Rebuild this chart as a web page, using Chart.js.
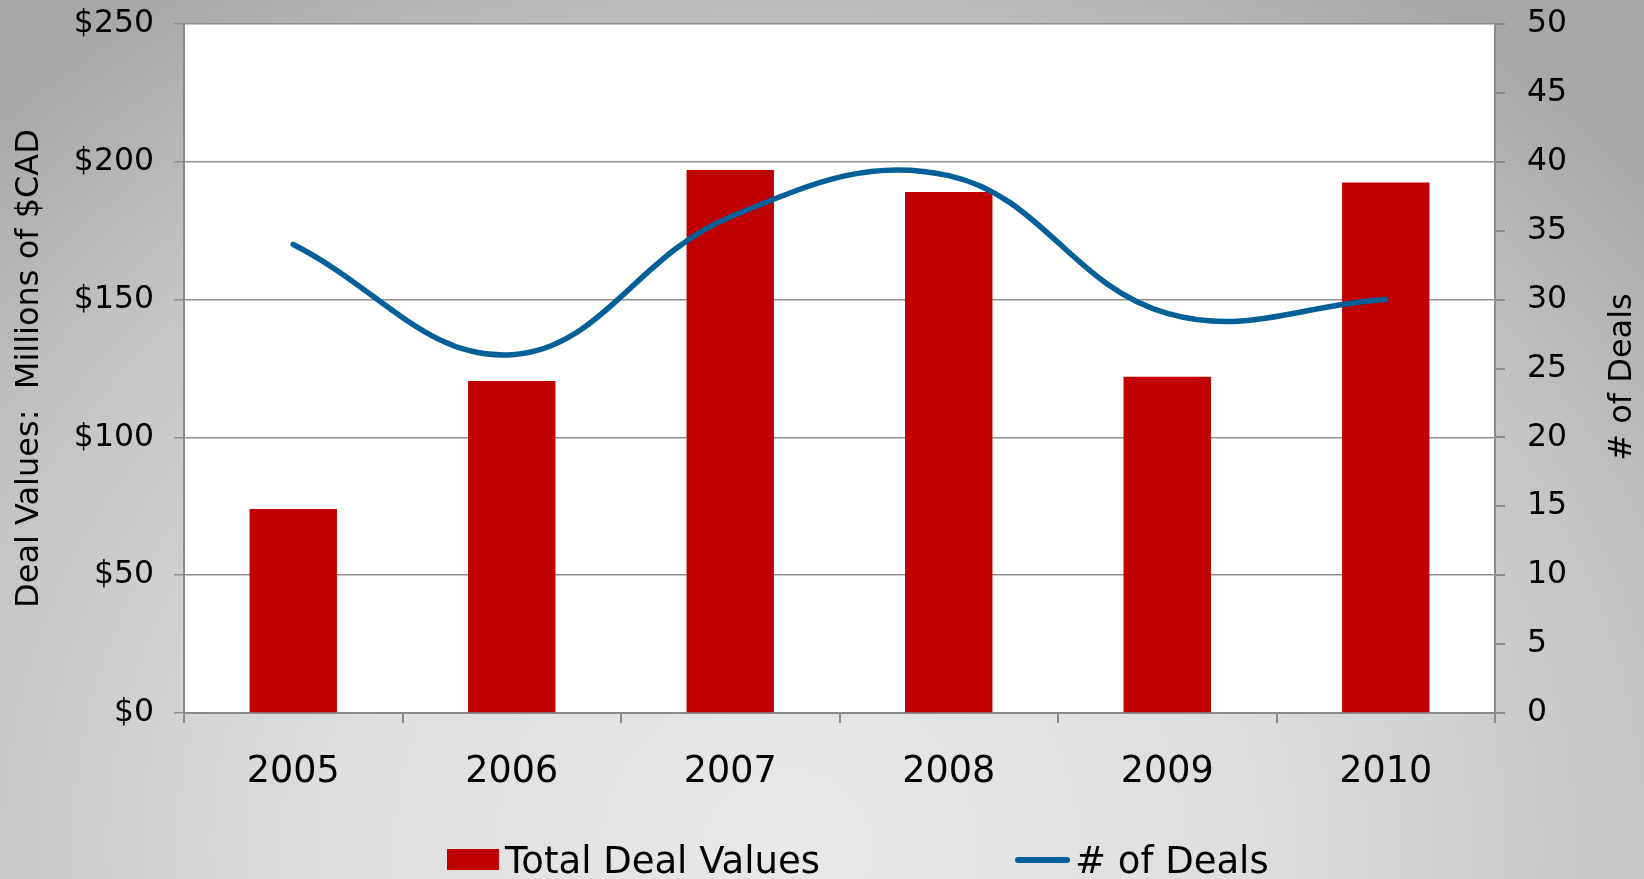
<!DOCTYPE html>
<html>
<head>
<meta charset="utf-8">
<script src="https://cdn.jsdelivr.net/npm/chart.js@4.4.0/dist/chart.umd.min.js"></script>
<style>
    html, body {
        margin: 0;
        padding: 0;
        width: 1644px;
        height: 879px;
        overflow: hidden;
        background: radial-gradient(ellipse 70% 115% at 48% 96%, #e8e8e8 0%, #dedede 40%, #c4c4c4 75%, #a8a8a8 100%);
    }
    canvas { display: block; }
</style>
</head>
<body>
<canvas id="Deals" width="1644" height="879"></canvas>
<script>
var years = ['2005', '2006', '2007', '2008', '2009', '2010']
var dealValues = [74, 120.5, 197, 189, 122, 192.5]
var dealCounts = [34, 26, 36, 39, 29, 30]

var FONT = "'DejaVu Sans', Verdana, sans-serif"
var rightTitle = '# of Deals'

// white plot area behind the grid
var plotBackground = {
    id: 'plotBackground',
    beforeDraw: (chart) => {
        var a = chart.chartArea
        var ctx = chart.ctx
        ctx.save()
        ctx.fillStyle = '#ffffff'
        ctx.fillRect(a.left, a.top, a.right - a.left, a.bottom - a.top)
        ctx.restore()
    }
}

// legend + right axis title drawn by hand so spacing and rotation match
var extras = {
    id: 'extras',
    afterDraw: (chart) => {
        var ctx = chart.ctx
        var bars = chart.data.datasets[0]
        var line = chart.data.datasets[1]
        ctx.save()
        ctx.font = '37px ' + FONT
        ctx.textBaseline = 'alphabetic'
        ctx.textAlign = 'left'

        ctx.fillStyle = bars.backgroundColor
        ctx.fillRect(447, 849, 52, 21)
        ctx.fillStyle = '#000000'
        ctx.fillText(bars.label, 505, 873)

        ctx.strokeStyle = line.borderColor
        ctx.lineWidth = 6
        ctx.lineCap = 'round'
        ctx.beginPath()
        ctx.moveTo(1018, 860)
        ctx.lineTo(1067, 860)
        ctx.stroke()
        ctx.fillText(line.label, 1075, 873)

        // right title reads bottom to top like the left one
        ctx.translate(1623, 377)
        ctx.rotate(-Math.PI / 2)
        ctx.font = '32px ' + FONT
        ctx.textAlign = 'center'
        ctx.textBaseline = 'middle'
        ctx.fillText(rightTitle, 0, 0)
        ctx.restore()
    }
}

// keep the plot top where the original has it
function fixY(width) {
    return (scale) => {
        scale.width = width
        scale.paddingTop = 0
        scale.paddingBottom = 0
    }
}

var ctx = document.getElementById('Deals').getContext('2d')
var myChart = new Chart(ctx, {
    type: 'bar',
    data: {
        labels: years,
        datasets: [{
            label: 'Total Deal Values',
            data: dealValues,
            backgroundColor: '#c00000',
            barPercentage: 0.4,
            categoryPercentage: 1.0,
            yAxisID: 'y',
            order: 1
        }, {
            type: 'line',
            label: '# of Deals',
            data: dealCounts,
            borderColor: '#035f97',
            borderWidth: 5.5,
            borderCapStyle: 'round',
            borderJoinStyle: 'round',
            tension: 0.4,
            pointRadius: 0,
            fill: false,
            yAxisID: 'y1',
            order: 0
        }]
    },
    options: {
        responsive: false,
        animation: false,
        devicePixelRatio: 1,
        layout: {
            padding: { left: 0, right: 0, top: 24, bottom: 86 }
        },
        plugins: {
            legend: { display: false },
            tooltip: { enabled: false }
        },
        scales: {
            x: {
                grid: {
                    display: true,
                    drawOnChartArea: false,
                    drawTicks: true,
                    tickLength: 10,
                    color: '#8a8a8a',
                    lineWidth: 2
                },
                border: { color: '#8a8a8a', width: 2 },
                ticks: {
                    color: '#000000',
                    padding: 28,
                    font: { family: FONT, size: 36.5 }
                },
                afterFit: (scale) => { scale.height = 80 }
            },
            y: {
                position: 'left',
                min: 0,
                max: 250,
                ticks: {
                    stepSize: 50,
                    color: '#000000',
                    padding: 20,
                    font: { family: FONT, size: 31.5 },
                    callback: (v) => '$' + v
                },
                grid: {
                    color: '#8f8f8f',
                    lineWidth: 1.5,
                    tickLength: 10
                },
                border: { color: '#8a8a8a', width: 2 },
                title: {
                    display: true,
                    text: 'Deal Values:  Millions of $CAD',
                    color: '#000000',
                    font: { family: FONT, size: 32 },
                    padding: { top: 10, bottom: 0 }
                },
                afterFit: fixY(184)
            },
            y1: {
                position: 'right',
                min: 0,
                max: 50,
                ticks: {
                    stepSize: 5,
                    color: '#000000',
                    padding: 22,
                    font: { family: FONT, size: 31.5 }
                },
                grid: {
                    drawOnChartArea: false,
                    color: '#8a8a8a',
                    lineWidth: 2,
                    tickLength: 10
                },
                border: { color: '#8a8a8a', width: 2 },
                afterFit: fixY(149)
            }
        }
    },
    plugins: [plotBackground, extras]
})
</script>
</body>
</html>
